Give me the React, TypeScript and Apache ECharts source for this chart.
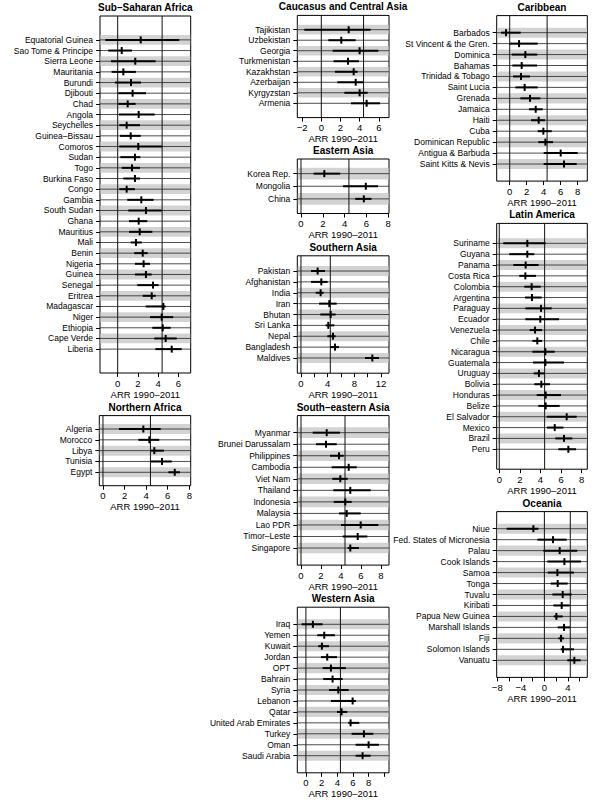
import React, { useEffect, useRef } from "react";
import * as echarts from "echarts";

// ---------- DATA ----------
const ssaNames = ["Equatorial Guinea", "Sao Tome & Principe", "Sierra Leone", "Mauritania", "Burundi", "Djibouti", "Chad", "Angola", "Seychelles", "Guinea–Bissau", "Comoros", "Sudan", "Togo", "Burkina Faso", "Congo", "Gambia", "South Sudan", "Ghana", "Mauritius", "Mali", "Benin", "Nigeria", "Guinea", "Senegal", "Eritrea", "Madagascar", "Niger", "Ethiopia", "Cape Verde", "Liberia"];
const ssaEst = [2.28, 0.4, 1.74, 0.56, 1.32, 1.48, 0.99, 2.08, 0.89, 1.29, 2.04, 1.71, 1.42, 1.71, 0.89, 2.34, 2.8, 2.08, 2.18, 1.81, 2.48, 2.57, 2.8, 3.5, 3.37, 4.52, 4.36, 4.46, 4.75, 5.35];
const ssaLo = [-1.23, -0.93, -0.66, -0.6, -0.27, 0.06, 0.06, 0.13, 0.16, 0.23, 0.16, 0.26, 0.4, 0.56, 0.16, 0.95, 1.05, 1.12, 1.12, 1.29, 1.64, 1.71, 1.71, 1.94, 2.48, 2.77, 3.2, 3.43, 3.63, 3.73];
const ssaHi = [6.1, 1.42, 3.76, 1.81, 2.31, 2.8, 1.78, 3.66, 2.21, 2.28, 4.42, 2.24, 2.21, 2.21, 1.71, 3.56, 4.36, 2.93, 3.43, 2.38, 2.97, 3.2, 3.37, 4.06, 3.76, 4.75, 5.5, 5.25, 5.84, 6.34];

const naNames = ["Algeria", "Morocco", "Libya", "Tunisia", "Egypt"];
const naEst = [3.74, 4.3, 4.76, 5.47, 6.65];
const naLo = [1.48, 3.28, 4.42, 4.42, 6.06];
const naHi = [5.35, 5.22, 5.66, 6.37, 7.14];

const ccaNames = ["Tajikistan", "Uzbekistan", "Georgia", "Turkmenistan", "Kazakhstan", "Azerbaijan", "Kyrgyzstan", "Armenia"];
const ccaEst = [2.85, 2.08, 3.99, 2.78, 3.37, 3.58, 3.99, 4.72];
const ccaLo = [-1.77, 0.73, 1.18, 1.28, 1.42, 1.67, 2.4, 3.09];
const ccaHi = [5.14, 3.58, 5.94, 3.92, 3.78, 4.44, 4.83, 6.11];

const eaNames = ["Korea Rep.", "Mongolia", "China"];
const eaEst = [2.14, 5.95, 5.77];
const eaLo = [1.16, 3.85, 4.98];
const eaHi = [3.6, 7.08, 6.47];

const saNames = ["Pakistan", "Afghanistan", "India", "Iran", "Bhutan", "Sri Lanka", "Nepal", "Bangladesh", "Maldives"];
const saEst = [2.5, 3.05, 2.95, 4.25, 4.45, 4.1, 4.8, 5.1, 10.7];
const saLo = [1.5, 1.5, 2.2, 2.7, 2.9, 3.7, 3.95, 4.35, 9.6];
const saHi = [3.6, 4.0, 3.4, 5.35, 5.2, 5.0, 5.2, 5.7, 11.7];

const seaNames = ["Myanmar", "Brunei Darussalam", "Philippines", "Cambodia", "Viet Nam", "Thailand", "Indonesia", "Malaysia", "Lao PDR", "Timor–Leste", "Singapore"];
const seaEst = [2.57, 2.5, 3.8, 4.77, 3.93, 4.93, 4.43, 4.57, 5.97, 5.67, 4.93];
const seaLo = [1.17, 1.5, 2.9, 3.07, 3.13, 3.23, 3.27, 3.8, 4.0, 4.17, 4.67];
const seaHi = [3.9, 3.57, 4.27, 5.57, 4.67, 6.97, 5.07, 5.97, 7.73, 6.63, 5.8];

const waNames = ["Iraq", "Yemen", "Kuwait", "Jordan", "OPT", "Bahrain", "Syria", "Lebanon", "Qatar", "United Arab Emirates", "Turkey", "Oman", "Saudi Arabia"];
const waEst = [0.89, 2.34, 2.04, 2.72, 3.19, 3.4, 4.13, 5.96, 4.55, 5.7, 7.4, 8.0, 7.23];
const waLo = [-0.55, 1.45, 1.57, 1.91, 2.13, 2.21, 2.94, 3.19, 3.96, 5.4, 5.83, 6.34, 6.34];
const waHi = [2.13, 3.7, 2.94, 3.96, 5.1, 4.68, 5.45, 6.38, 5.28, 6.81, 8.6, 9.32, 8.26];

const carNames = ["Barbados", "St Vincent & the Gren.", "Dominica", "Bahamas", "Trinidad & Tobago", "Saint Lucia", "Grenada", "Jamaica", "Haiti", "Cuba", "Dominican Republic", "Antigua & Barbuda", "Saint Kitts & Nevis"];
const carEst = [-0.43, 1.1, 1.84, 1.41, 1.33, 1.76, 2.39, 3.06, 3.41, 3.96, 4.2, 6.0, 6.39];
const carLo = [-1.02, -0.08, 0.24, 0.31, 0.39, 0.67, 1.25, 2.27, 2.51, 3.29, 3.37, 4.0, 4.0];
const carHi = [1.29, 3.29, 3.25, 3.22, 2.39, 3.29, 3.61, 3.88, 4.16, 4.94, 5.1, 8.0, 7.88];

const laNames = ["Suriname", "Guyana", "Panama", "Costa Rica", "Colombia", "Argentina", "Paraguay", "Ecuador", "Venezuela", "Chile", "Nicaragua", "Guatemala", "Uruguay", "Bolivia", "Honduras", "Belize", "El Salvador", "Mexico", "Brazil", "Peru"];
const laEst = [2.72, 2.72, 2.56, 2.53, 3.14, 3.17, 4.05, 3.98, 3.47, 3.69, 4.47, 4.47, 3.85, 4.08, 4.5, 4.5, 6.54, 5.38, 6.28, 6.7];
const laLo = [0.39, 0.97, 1.36, 1.94, 2.43, 2.49, 2.53, 2.53, 2.95, 3.21, 3.21, 3.27, 3.34, 3.4, 3.63, 3.79, 4.6, 4.63, 5.44, 5.73];
const laHi = [4.5, 3.4, 3.82, 3.56, 4.02, 4.11, 5.09, 5.8, 4.15, 4.15, 5.38, 6.28, 4.44, 4.92, 5.99, 5.86, 7.51, 6.22, 7.09, 7.45];

const ocNames = ["Niue", "Fed. States of Micronesia", "Palau", "Cook Islands", "Samoa", "Tonga", "Tuvalu", "Kiribati", "Papua New Guinea", "Marshall Islands", "Fiji", "Solomon Islands", "Vanuatu"];
const ocEst = [-1.87, 1.47, 2.6, 3.4, 2.21, 2.26, 3.11, 2.94, 2.04, 3.34, 2.83, 3.17, 5.09];
const ocLo = [-6.4, -1.19, -0.17, 0.51, 0.57, 1.08, 1.36, 1.53, 1.58, 2.26, 2.38, 2.77, 3.9];
const ocHi = [-1.02, 3.79, 5.6, 6.23, 5.04, 3.96, 4.64, 4.3, 3.11, 4.36, 3.34, 5.04, 6.17];

const refLines = [0, 4.4];
const axisTitle = "ARR 1990–2011";

// ---------- LAYOUT ----------
const panels = [
  { title: "Sub–Saharan Africa", names: ssaNames, est: ssaEst, lo: ssaLo, hi: ssaHi, box: [100, 16, 90.7, 357], xr: [-1.75, 7.23], ticks: [0, 2, 4, 6], labels: [0, 2, 4, 6] },
  { title: "Northern Africa", names: naNames, est: naEst, lo: naLo, hi: naHi, box: [99.3, 415.6, 91.4, 70.1], xr: [-0.34, 8.13], ticks: [0, 2, 4, 6, 8], labels: [0, 2, 4, 6, 8] },
  { title: "Caucasus and Central Asia", names: ccaNames, est: ccaEst, lo: ccaLo, hi: ccaHi, box: [297.3, 15.4, 91.7, 102.2], xr: [-2.5, 7.05], ticks: [-2, 0, 2, 4, 6], labels: [-2, 0, 2, 4, 6] },
  { title: "Eastern Asia", names: eaNames, est: eaEst, lo: eaLo, hi: eaHi, box: [297.3, 159, 91.7, 54.5], xr: [-0.34, 8.08], ticks: [0, 2, 4, 6, 8], labels: [0, 2, 4, 6, 8] },
  { title: "Southern Asia", names: saNames, est: saEst, lo: saLo, hi: saHi, box: [297.3, 255.8, 91.7, 117.4], xr: [-0.55, 13.2], ticks: [0, 2, 4, 6, 8, 10, 12], labels: [0, 4, 8, 12] },
  { title: "South–eastern Asia", names: seaNames, est: seaEst, lo: seaLo, hi: seaHi, box: [297.3, 415.6, 91.7, 149.5], xr: [-0.37, 8.8], ticks: [0, 2, 4, 6, 8], labels: [0, 2, 4, 6, 8] },
  { title: "Western Asia", names: waNames, est: waEst, lo: waLo, hi: waHi, box: [297.3, 607.2, 91.7, 165.6], xr: [-1.1, 10.6], ticks: [0, 2, 4, 6, 8, 10], labels: [0, 2, 4, 6, 8] },
  { title: "Caribbean", names: carNames, est: carEst, lo: carLo, hi: carHi, box: [496.7, 15.6, 90.6, 165.5], xr: [-1.53, 9.13], ticks: [0, 2, 4, 6, 8], labels: [0, 2, 4, 6, 8] },
  { title: "Latin America", names: laNames, est: laEst, lo: laLo, hi: laHi, box: [496.7, 223.4, 90.6, 245.8], xr: [-0.25, 8.54], ticks: [0, 2, 4, 6, 8], labels: [0, 2, 4, 6, 8] },
  { title: "Oceania", names: ocNames, est: ocEst, lo: ocLo, hi: ocHi, box: [496.7, 511.6, 90.6, 165.8], xr: [-8.1, 7.29], ticks: [-8, -6, -4, -2, 0, 2, 4, 6], labels: [-8, -4, 0, 4] },
];

const FONT = '"Liberation Sans", Arial, Helvetica, sans-serif';
const fmtNum = (v: number) => (v < 0 ? "−" + Math.abs(v) : String(v));

function buildOption() {
  const grid: any[] = [];
  const xAxis: any[] = [];
  const yAxis: any[] = [];
  const series: any[] = [];
  const graphic: any[] = [];

  panels.forEach((p, i) => {
    const n = p.names.length;
    const [left, top, width, height] = p.box;
    const rows = p.names.map((_, k) => k + 1);
    grid.push({
      left, top, width, height,
      show: true, borderColor: "#000", borderWidth: 1, backgroundColor: "transparent",
      containLabel: false, outerBoundsMode: "none",
    });
    xAxis.push({
      gridIndex: i, type: "value", position: "bottom", min: p.xr[0], max: p.xr[1],
      axisLine: { show: false, onZero: false }, splitLine: { show: false },
      axisTick: { show: true, customValues: p.ticks, length: 4, lineStyle: { color: "#000", width: 1 } },
      axisLabel: { customValues: p.labels, formatter: (v: number) => fmtNum(v), fontSize: 9.5, color: "#000", margin: 5, fontFamily: FONT },
      name: axisTitle, nameLocation: "middle", nameGap: 16,
      nameTextStyle: { fontSize: 9.5, color: "#000", fontFamily: FONT, verticalAlign: "top" },
    });
    const pad = 0.04 * (n + 1);
    yAxis.push({
      gridIndex: i, type: "value", position: "left", inverse: true, min: -pad, max: n + 1 + pad,
      axisLine: { show: false, onZero: false }, splitLine: { show: false },
      axisTick: { show: true, customValues: rows, length: 4, lineStyle: { color: "#000", width: 1 } },
      axisLabel: {
        customValues: rows,
        formatter: (v: number) => p.names[Math.round(v) - 1] ?? "",
        fontSize: 8.5, color: "#000", margin: 7, fontFamily: FONT,
      },
    });
    // gray bands on alternate rows
    series.push({
      type: "custom", xAxisIndex: i, yAxisIndex: i, silent: true,
      data: rows.filter((r) => r % 2 === 1).map((r) => [0, r]),
      encode: { x: 0, y: 1 },
      renderItem: (params: any, api: any) => {
        const cs = params.coordSys;
        const r = api.value(1);
        const y1 = api.coord([0, r - 0.46])[1];
        const y2 = api.coord([0, r + 0.46])[1];
        return {
          type: "rect",
          shape: { x: cs.x + 0.5, y: Math.min(y1, y2), width: cs.width - 1, height: Math.abs(y2 - y1) },
          style: { fill: "#d3d3d3" },
        };
      },
    });
    // reference vertical lines
    series.push({
      type: "custom", xAxisIndex: i, yAxisIndex: i, silent: true,
      data: refLines.map((v) => [v, 1]),
      encode: { x: 0, y: 1 },
      renderItem: (params: any, api: any) => {
        const cs = params.coordSys;
        const x = api.coord([api.value(0), 1])[0];
        return {
          type: "line",
          shape: { x1: x, y1: cs.y, x2: x, y2: cs.y + cs.height },
          style: { stroke: "#111", lineWidth: 1 },
        };
      },
    });
    // rows: full-width line, CI, estimate tick
    series.push({
      type: "custom", xAxisIndex: i, yAxisIndex: i, silent: true,
      data: p.names.map((_, k) => [p.lo[k], p.hi[k], p.est[k], k + 1]),
      encode: { x: [0, 1, 2], y: 3 },
      renderItem: (params: any, api: any) => {
        const cs = params.coordSys;
        const row = api.value(3);
        const pLo = api.coord([api.value(0), row]);
        const pHi = api.coord([api.value(1), row]);
        const pE = api.coord([api.value(2), row]);
        const y = pE[1];
        return {
          type: "group",
          children: [
            { type: "line", shape: { x1: cs.x, y1: y, x2: cs.x + cs.width, y2: y }, style: { stroke: "#222", lineWidth: 0.8 } },
            { type: "line", shape: { x1: pLo[0], y1: y, x2: pHi[0], y2: y }, style: { stroke: "#000", lineWidth: 2 } },
            { type: "line", shape: { x1: pE[0], y1: y - 3.5, x2: pE[0], y2: y + 3.5 }, style: { stroke: "#000", lineWidth: 2 } },
          ],
        };
      },
    });
    graphic.push({
      type: "text",
      x: left + width / 2,
      y: top - 8.5,
      style: {
        text: p.title, fill: "#000", fontSize: 10, fontWeight: "bold", fontFamily: FONT,
        align: "center", verticalAlign: "middle", textAlign: "center", textVerticalAlign: "middle",
      },
    });
  });

  return {
    animation: false,
    backgroundColor: "#fff",
    textStyle: { fontFamily: FONT },
    grid, xAxis, yAxis, series, graphic,
  };
}

export default function App() {
  const ref = useRef<HTMLDivElement>(null);
  useEffect(() => {
    if (!ref.current) return;
    const chart = echarts.init(ref.current, undefined, { renderer: "svg" });
    chart.setOption(buildOption() as any);
    return () => chart.dispose();
  }, []);
  return (
    <div
      ref={ref}
      style={{ position: "absolute", left: 0, top: 0, width: 595, height: 800, background: "#fff" }}
    />
  );
}
